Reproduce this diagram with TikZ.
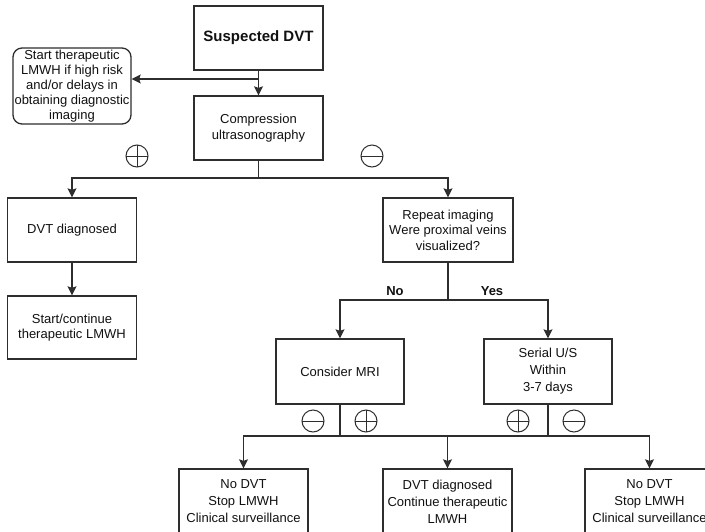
\documentclass[tikz,border=0pt]{standalone}
\usepackage{fontspec}
\setmainfont{Liberation Sans}
\usetikzlibrary{arrows.meta}
\definecolor{linec}{HTML}{2E2E2E}
\definecolor{textc}{HTML}{111111}
\begin{document}
\begin{tikzpicture}[x=1pt,y=-1pt,
  box/.style={draw=linec, line width=1.3pt, minimum width=129pt, minimum height=65pt,
    align=center, inner sep=1pt, text=textc, font=\fontsize{13}{15.5}\selectfont},
  tallbox/.style={box, font=\fontsize{13}{17}\selectfont},
  softbox/.style={box, rounded corners=9pt, minimum width=118pt, minimum height=76pt,
    inner sep=0pt, font=\fontsize{13}{15}\selectfont},
  arr/.style={draw=linec, line width=1.3pt, -{Stealth[length=9pt,width=9pt,inset=1.5pt]}},
  link/.style={draw=linec, line width=1.3pt},
  lbl/.style={font=\fontsize{13}{15}\bfseries\selectfont, text=textc},
  sign/.style={circle, draw=linec, line width=1pt, minimum size=22pt, inner sep=0pt},
  possign/.style={sign, path picture={
    \draw[linec, line width=1pt] (path picture bounding box.north) -- (path picture bounding box.south);
    \draw[linec, line width=1pt] (path picture bounding box.west) -- (path picture bounding box.east);}},
  negsign/.style={sign, path picture={
    \draw[linec, line width=1pt] (path picture bounding box.west) -- (path picture bounding box.east);}}
]
\fill[white] (0,0) rectangle (705,531);
\useasboundingbox (0,0) rectangle (705,531);

% boxes
\node[box, font=\fontsize{15}{17}\bfseries\selectfont, minimum height=64pt] (susp) at (258.5,38) {Suspected DVT};
\node[softbox, text depth=3pt] (start) at (72,86) {Start therapeutic\\LMWH if high risk\\and/or delays in\\obtaining diagnostic\\imaging};
\node[box, minimum height=64pt] (comp) at (258.5,128) {Compression\\ultrasonography};
\node[box, minimum height=64pt] (dvt) at (72,230) {DVT diagnosed};
\node[box, minimum height=63pt] (startc) at (72,327.5) {Start/continue\\therapeutic LMWH};
\node[box, minimum width=130pt, minimum height=64pt] (rep) at (448,230) {Repeat imaging\\Were proximal veins\\visualized?};
\node[box, minimum width=128pt] (mri) at (340,371.5) {Consider MRI};
\node[tallbox, minimum width=128pt] (ser) at (548,371.5) {Serial U/S\\Within\\3-7 days};
\node[tallbox] (nodvtA) at (243.5,501.5) {No DVT\\Stop LMWH\\Clinical surveillance};
\node[tallbox] (dvtB) at (447.5,501.5) {DVT diagnosed\\Continue therapeutic\\LMWH};
\node[tallbox] (nodvtC) at (649.5,501.5) {No DVT\\Stop LMWH\\Clinical surveillance};

% junction points
\coordinate (j1) at (258.5,79);
\coordinate (j2) at (258.5,178);
\coordinate (j3) at (448,300);
\coordinate (jm) at (340,436);
\coordinate (js) at (548,436);

% connectors
\draw[arr] (susp.south) -- (comp.north);
\draw[arr] (j1) -- (j1 -| start.east);
\draw[link] (comp.south) -- (j2);
\draw[arr] (j2) -| (dvt.north);
\draw[arr] (j2) -| (rep.north);
\draw[arr] (dvt.south) -- (startc.north);
\draw[link] (rep.south) -- (j3);
\draw[arr] (j3) -| (mri.north);
\draw[arr] (j3) -| (ser.north);
\draw[link] (mri.south) -- (jm);
\draw[link] (ser.south) -- (js);
\draw[arr] (jm) -| (nodvtA.north);
\draw[arr] (jm) -| (dvtB.north);
\draw[link] (jm) -- (js);
\draw[arr] (js) -| (nodvtC.north);

% branch labels
\node[lbl] (no) at (395,291) {No};
\node[lbl] (yes) at (492,291) {Yes};

% result signs
\node[possign] (s1) at (137,156) {};
\node[negsign] (s2) at (372,156) {};
\node[negsign] (s3) at (313,421) {};
\node[possign] (s4) at (366,421) {};
\node[possign] (s5) at (518,421) {};
\node[negsign] (s6) at (574,421) {};
\end{tikzpicture}
\end{document}
